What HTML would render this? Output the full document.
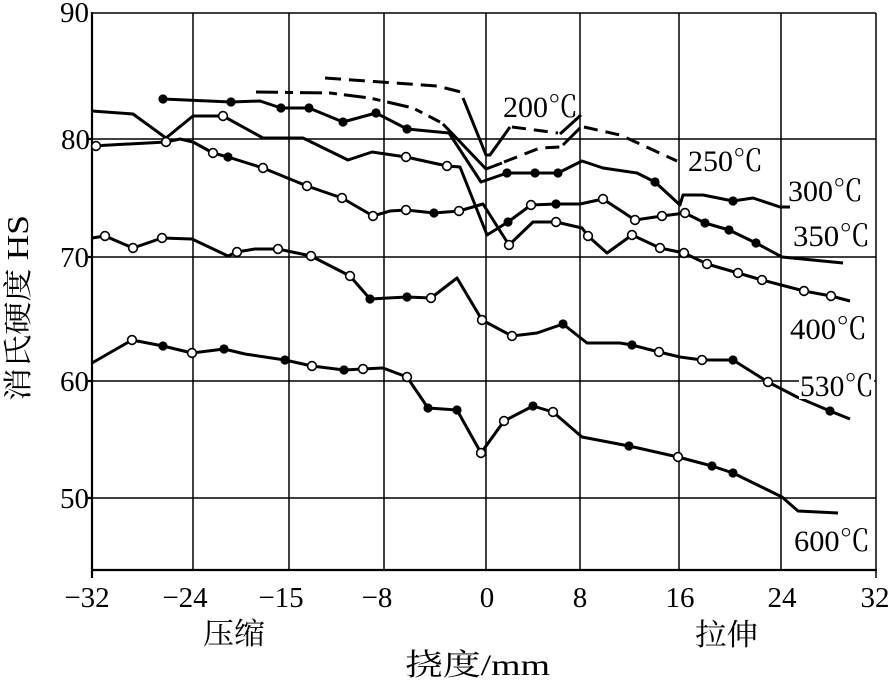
<!DOCTYPE html>
<html>
<head>
<meta charset="utf-8">
<style>
  html,body{margin:0;padding:0;background:#fff;}
  svg{display:block;}
  .c{fill:none;stroke:#000;stroke-width:3;stroke-linejoin:round;stroke-linecap:butt;}
</style>
</head>
<body>
<svg width="890" height="681" viewBox="0 0 890 681" xmlns="http://www.w3.org/2000/svg">
  <rect x="0" y="0" width="890" height="681" fill="#fff"/>

  <g stroke="#000" stroke-width="1.5" fill="none">
    <line x1="92" y1="13" x2="876" y2="13"/>
    <line x1="92" y1="139" x2="876" y2="139"/>
    <line x1="92" y1="257" x2="876" y2="257"/>
    <line x1="92" y1="381" x2="876" y2="381"/>
    <line x1="92" y1="498" x2="876" y2="498"/>
    <line x1="193" y1="13" x2="193" y2="570"/>
    <line x1="289" y1="13" x2="289" y2="570"/>
    <line x1="384" y1="13" x2="384" y2="570"/>
    <line x1="486" y1="13" x2="486" y2="570"/>
    <line x1="580" y1="13" x2="580" y2="570"/>
    <line x1="679" y1="13" x2="679" y2="570"/>
    <line x1="781" y1="13" x2="781" y2="570"/>
    <line x1="876" y1="13" x2="876" y2="578"/>
  </g>
  <g stroke="#000" stroke-width="2.2" fill="none">
    <line x1="92" y1="12" x2="92" y2="578"/>
    <line x1="91" y1="570" x2="877" y2="570"/>
    <line x1="88" y1="139" x2="92" y2="139"/>
    <line x1="88" y1="257" x2="92" y2="257"/>
    <line x1="88" y1="381" x2="92" y2="381"/>
    <line x1="88" y1="498" x2="92" y2="498"/>
  </g>

  <g font-family="'Liberation Serif', 'DejaVu Serif', serif" font-size="29" fill="#000" text-anchor="end">
    <text x="89" y="22">90</text>
    <text x="90" y="149">80</text>
    <text x="89" y="267">70</text>
    <text x="89" y="391">60</text>
    <text x="89" y="508">50</text>
  </g>
  <g font-family="'Liberation Serif', 'DejaVu Serif', serif" font-size="29" fill="#000" text-anchor="middle">
    <text x="87" y="607">−32</text>
    <text x="185" y="607">−24</text>
    <text x="281" y="607">−15</text>
    <text x="377" y="607">−8</text>
    <text x="487" y="607">0</text>
    <text x="580" y="607">8</text>
    <text x="680" y="607">16</text>
    <text x="782" y="607">24</text>
    <text x="875" y="607">32</text>
  </g>

  <g font-family="'Liberation Serif', 'Noto Serif CJK SC', serif" font-size="30" fill="#000">
    <text x="203" y="644" textLength="62" lengthAdjust="spacingAndGlyphs">压缩</text>
    <text x="695" y="645" textLength="63" lengthAdjust="spacingAndGlyphs">拉伸</text>
    <text x="405" y="675" textLength="145" lengthAdjust="spacingAndGlyphs">挠度/mm</text>
  </g>

  <g transform="translate(28,308) rotate(-90)">
    <text x="0" y="0" text-anchor="middle" font-family="'Liberation Serif', 'Noto Serif CJK SC', serif" font-size="29" fill="#000" textLength="186" lengthAdjust="spacingAndGlyphs">消氏硬度 <tspan font-size="31">HS</tspan></text>
  </g>

  <polyline class="c" stroke-dasharray="16 8" points="325,78 437,86 461,92"/>
  <polyline class="c" points="463,98 486,155 490,155 510,127"/>
  <polyline class="c" stroke-dasharray="14 8" points="512,127 558,133"/>
  <polyline class="c" points="560,134 581,115"/>

  <polyline class="c" stroke-dasharray="22 7 8 7" points="256,92 330,93 370,98 413,108 440,122"/>
  <polyline class="c" points="443,124 486,169 502,163"/>
  <polyline class="c" stroke-dasharray="14 8" points="504,162 540,148 560,147"/>
  <polyline class="c" points="563,145 580,128"/>
  <polyline class="c" stroke-dasharray="14 8" points="584,127 620,135 640,144 677,161"/>

  <polyline class="c" points="163,99 231,102 260,101 281,108 309,108 343,122 376,113 407,129 449,133 481,182 507,173 535,173 558,173 582,161 603,168 637,173 655,182 680,205 683,195 703,195 733,201 753,198 780,207 790,207"/>

  <polyline class="c" points="92,111 133,114 166,138 193,116 223,116 263,138 303,138 348,160 372,152 406,157 447,166 460,167 487,235 508,222 531,205 556,204 580,204 603,199 635,220 662,216 685,213 705,223 729,230 756,243 782,257 843,263"/>

  <polyline class="c" points="92,146 166,142 180,139 193,142 213,153 228,157 263,168 307,186 342,198 373,216 390,211 406,210 434,213 459,211 483,204 509,245 533,222 556,222 582,228 588,236 607,253 632,235 660,248 684,253 707,264 738,273 762,280 804,291 831,296 850,301"/>

  <polyline class="c" points="92,238 105,236 133,248 162,238 192,239 228,256 237,252 255,249 278,249 311,256 350,276 370,299 407,297 431,298 457,278 482,320 512,336 537,333 563,324 587,343 620,343 632,345 659,352 680,357 702,360 733,360 768,382 797,397 830,411 850,419"/>

  <polyline class="c" points="92,363 132,340 163,346 192,353 224,349 245,354 285,360 312,366 344,370 363,369 383,368 407,377 428,408 457,410 481,453 504,421 533,406 553,412 582,437 629,446 678,457 712,466 733,473 782,497 798,511 838,513"/>

  <g fill="#000">
    <circle cx="163" cy="99" r="4.6"/>
    <circle cx="231" cy="102" r="4.6"/>
    <circle cx="281" cy="108" r="4.6"/>
    <circle cx="309" cy="108" r="4.6"/>
    <circle cx="343" cy="122" r="4.6"/>
    <circle cx="376" cy="113" r="4.6"/>
    <circle cx="407" cy="129" r="4.6"/>
    <circle cx="507" cy="173" r="4.6"/>
    <circle cx="535" cy="173" r="4.6"/>
    <circle cx="558" cy="173" r="4.6"/>
    <circle cx="655" cy="182" r="4.6"/>
    <circle cx="733" cy="201" r="4.6"/>
    <circle cx="508" cy="222" r="4.6"/>
    <circle cx="556" cy="204" r="4.6"/>
    <circle cx="705" cy="223" r="4.6"/>
    <circle cx="729" cy="230" r="4.6"/>
    <circle cx="756" cy="243" r="4.6"/>
    <circle cx="228" cy="157" r="4.6"/>
    <circle cx="434" cy="213" r="4.6"/>
    <circle cx="370" cy="299" r="4.6"/>
    <circle cx="407" cy="297" r="4.6"/>
    <circle cx="563" cy="324" r="4.6"/>
    <circle cx="632" cy="345" r="4.6"/>
    <circle cx="733" cy="360" r="4.6"/>
    <circle cx="830" cy="411" r="4.6"/>
    <circle cx="163" cy="346" r="4.6"/>
    <circle cx="224" cy="349" r="4.6"/>
    <circle cx="285" cy="360" r="4.6"/>
    <circle cx="344" cy="370" r="4.6"/>
    <circle cx="428" cy="408" r="4.6"/>
    <circle cx="457" cy="410" r="4.6"/>
    <circle cx="533" cy="406" r="4.6"/>
    <circle cx="629" cy="446" r="4.6"/>
    <circle cx="712" cy="466" r="4.6"/>
    <circle cx="733" cy="473" r="4.6"/>
  </g>

  <g fill="#fff" stroke="#000" stroke-width="1.6">
    <circle cx="223" cy="116" r="4.4"/>
    <circle cx="406" cy="157" r="4.4"/>
    <circle cx="447" cy="166" r="4.4"/>
    <circle cx="531" cy="205" r="4.4"/>
    <circle cx="603" cy="199" r="4.4"/>
    <circle cx="635" cy="220" r="4.4"/>
    <circle cx="662" cy="216" r="4.4"/>
    <circle cx="685" cy="213" r="4.4"/>
    <circle cx="96" cy="146" r="4.4"/>
    <circle cx="166" cy="142" r="4.4"/>
    <circle cx="213" cy="153" r="4.4"/>
    <circle cx="263" cy="168" r="4.4"/>
    <circle cx="307" cy="186" r="4.4"/>
    <circle cx="342" cy="198" r="4.4"/>
    <circle cx="373" cy="216" r="4.4"/>
    <circle cx="406" cy="210" r="4.4"/>
    <circle cx="459" cy="211" r="4.4"/>
    <circle cx="509" cy="245" r="4.4"/>
    <circle cx="556" cy="222" r="4.4"/>
    <circle cx="588" cy="236" r="4.4"/>
    <circle cx="632" cy="235" r="4.4"/>
    <circle cx="660" cy="248" r="4.4"/>
    <circle cx="684" cy="253" r="4.4"/>
    <circle cx="707" cy="264" r="4.4"/>
    <circle cx="738" cy="273" r="4.4"/>
    <circle cx="762" cy="280" r="4.4"/>
    <circle cx="804" cy="291" r="4.4"/>
    <circle cx="831" cy="296" r="4.4"/>
    <circle cx="105" cy="236" r="4.4"/>
    <circle cx="133" cy="248" r="4.4"/>
    <circle cx="162" cy="238" r="4.4"/>
    <circle cx="237" cy="252" r="4.4"/>
    <circle cx="278" cy="249" r="4.4"/>
    <circle cx="311" cy="256" r="4.4"/>
    <circle cx="350" cy="276" r="4.4"/>
    <circle cx="431" cy="298" r="4.4"/>
    <circle cx="482" cy="320" r="4.4"/>
    <circle cx="512" cy="336" r="4.4"/>
    <circle cx="659" cy="352" r="4.4"/>
    <circle cx="702" cy="360" r="4.4"/>
    <circle cx="768" cy="382" r="4.4"/>
    <circle cx="132" cy="340" r="4.4"/>
    <circle cx="192" cy="353" r="4.4"/>
    <circle cx="312" cy="366" r="4.4"/>
    <circle cx="363" cy="369" r="4.4"/>
    <circle cx="407" cy="377" r="4.4"/>
    <circle cx="481" cy="453" r="4.4"/>
    <circle cx="504" cy="421" r="4.4"/>
    <circle cx="553" cy="412" r="4.4"/>
    <circle cx="678" cy="457" r="4.4"/>
  </g>

  <rect x="799" y="371" width="75" height="28" fill="#fff"/>
  <g font-family="'Liberation Serif', 'Noto Serif CJK SC', serif" font-size="30" fill="#000">
    <text x="503" y="117" textLength="75" lengthAdjust="spacingAndGlyphs">200℃</text>
    <text x="688" y="171" textLength="75" lengthAdjust="spacingAndGlyphs">250℃</text>
    <text x="788" y="201" textLength="75" lengthAdjust="spacingAndGlyphs">300℃</text>
    <text x="793" y="246" textLength="77" lengthAdjust="spacingAndGlyphs">350℃</text>
    <text x="790" y="339" textLength="77" lengthAdjust="spacingAndGlyphs">400℃</text>
    <text x="800" y="396" textLength="74" lengthAdjust="spacingAndGlyphs">530℃</text>
    <text x="794" y="551" textLength="76" lengthAdjust="spacingAndGlyphs">600℃</text>
  </g>
</svg>
</body>
</html>
